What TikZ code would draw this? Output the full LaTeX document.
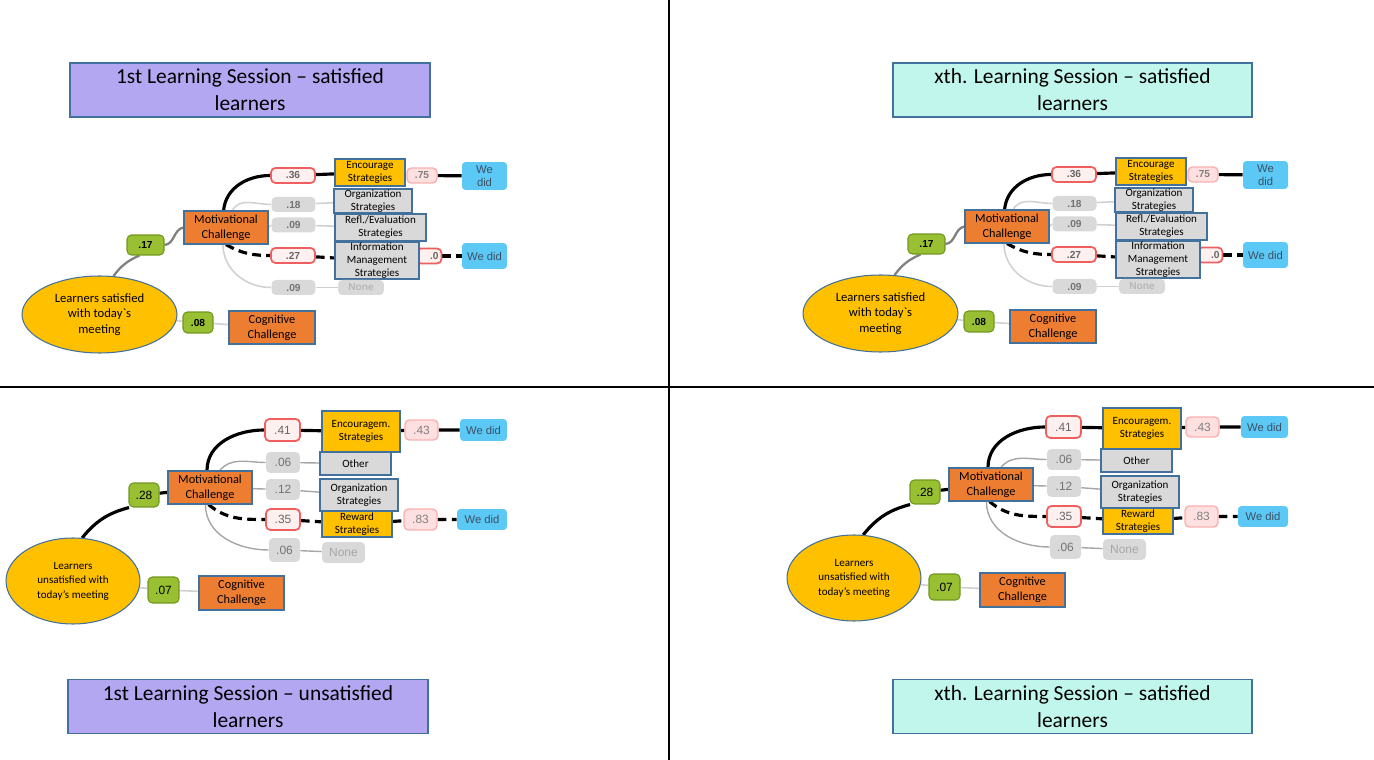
\documentclass[tikz,border=0pt]{standalone}
\usepackage{fontspec}
\setmainfont{Carlito}
\newfontfamily\numfont{Liberation Sans}
\usetikzlibrary{shapes.geometric,backgrounds}
\definecolor{sessblue}{RGB}{65,113,156}
\definecolor{sesspurple}{RGB}{180,167,242}
\definecolor{sessaqua}{RGB}{192,246,236}
\definecolor{chalorange}{RGB}{237,125,49}
\definecolor{stratgold}{RGB}{255,192,0}
\definecolor{probgreen}{RGB}{152,192,50}
\definecolor{probgreendark}{RGB}{112,150,30}
\definecolor{probred}{RGB}{240,95,95}
\definecolor{probpink}{RGB}{250,175,175}
\definecolor{didblue}{RGB}{92,200,245}
\definecolor{didtext}{RGB}{60,80,100}
\definecolor{lowgrey}{RGB}{217,217,217}

\begin{document}
\begin{tikzpicture}[x=0.02cm, y=-0.02cm,
    sessbox/.style={rectangle, draw=sessblue, line width=1.1pt, minimum width=7.2cm,
        minimum height=1.08cm, inner sep=0pt, align=center,
        font=\fontsize{12.2}{15.5}\selectfont},
    goal/.style={ellipse, draw=sessblue, fill=stratgold, line width=0.6pt,
        inner sep=0pt, align=center},
    chal/.style={rectangle, draw=sessblue, fill=chalorange, line width=0.6pt,
        inner sep=0pt, align=center, font=\fontsize{7}{8.5}\selectfont},
    strat/.style={rectangle, draw=sessblue, fill=stratgold, line width=0.6pt,
        inner sep=0pt, align=center, font=\fontsize{6.3}{7.4}\selectfont},
    other/.style={strat, fill=lowgrey},
    prob/.style={rectangle, rounded corners=2.5pt, inner sep=0pt,
        minimum width=0.88cm, minimum height=0.3cm},
    pgreen/.style={prob, draw=probgreendark, fill=probgreen, line width=0.6pt},
    pred/.style={prob, draw=probred, fill=red!6, line width=1pt, text=black!60},
    ppale/.style={prob, draw=probpink, fill=red!12, line width=0.8pt, text=black!50},
    pgrey/.style={prob, fill=lowgrey, text=black!55},
    did/.style={rectangle, rounded corners=2pt, fill=didblue, inner sep=0pt,
        align=center, text=didtext, font=\numfont\fontsize{6.4}{7.2}\selectfont},
    strong/.style={line width=1.8pt, black},
    strongdash/.style={strong, dash pattern=on 5pt off 3pt},
    mid/.style={line width=1.3pt, black!50},
    weak/.style={line width=0.9pt, black!18},
    soft/.style={line width=0.8pt, black!35}
]
    \useasboundingbox (0,0) rectangle (1374,760);

    % Panel dividers
    \draw[line width=0.6pt] (669,0) -- (669,760);
    \draw[line width=0.6pt] (0,387) -- (1374,387);

    % Session titles
    \node[sessbox, fill=sesspurple] (ttl) at (250,90) {1st Learning Session -- satisfied\\learners};
    \node[sessbox, fill=sessaqua, minimum width=7.18cm] (ttr) at (1072.5,90) {xth. Learning Session -- satisfied\\learners};
    \node[sessbox, fill=sesspurple] (tbl) at (248,706.5) {1st Learning Session -- unsatisfied\\learners};
    \node[sessbox, fill=sessaqua, minimum width=7.18cm] (tbr) at (1072.5,706.5) {xth. Learning Session -- satisfied\\learners};

    % Satisfied learners (top row)
    \foreach \dx/\dy/\s in {0/0/a, 781/-1/b} {
    \begin{scope}[shift={(\dx,\dy)},
        prob/.append style={font=\numfont\bfseries\fontsize{5.8}{7}\selectfont}]
        \node[goal, minimum width=3.1cm, minimum height=1.54cm,
            font=\fontsize{7.2}{8.8}\selectfont] (ell\s) at (99.5,314.5)
            {Learners satisfied\\with today\textasciigrave s\\meeting};
        \node[pgreen, minimum width=0.74cm, minimum height=0.40cm] (pa\s) at (145.5,245) {.17};
        \node[chal, minimum width=1.68cm, minimum height=0.66cm] (mot\s) at (226,227.5) {Motivational\\Challenge};
        \node[pred] (pb\s) at (293,175.5) {.36};
        \node[strat, minimum width=1.40cm, minimum height=0.54cm] (enc\s) at (370,172.5) {Encourage\\Strategies};
        \node[ppale, minimum width=0.60cm] (pc\s) at (422,175.5) {.75};
        \node[did, minimum width=0.90cm, minimum height=0.56cm] (dida\s) at (484.5,176) {We\\did};
        \node[pgrey] (pd\s) at (293.5,204.5) {.18};
        \node[other, minimum width=1.56cm, minimum height=0.48cm] (org\s) at (373,201) {Organization\\Strategies};
        \node[pgrey] (pe\s) at (293.5,225) {.09};
        \node[other, minimum width=1.82cm, minimum height=0.54cm] (refl\s) at (380.5,227.5) {Refl./Evaluation\\Strategies};
        \node[pred] (pf\s) at (293,255.5) {.27};
        \node[pred, minimum width=0.5cm] (pg\s) at (429,256) {\hspace{6pt}.0};
        \node[other, minimum width=1.68cm, minimum height=0.74cm] (info\s) at (377,260.5) {Information\\Management\\Strategies};
        \node[did, minimum width=0.90cm, minimum height=0.52cm] (didb\s) at (484.5,256) {We did};
        \node[pgrey] (ph\s) at (293.5,287.5) {.09};
        \node[pgrey, minimum width=0.92cm, text=black!28] (none\s) at (361,287.5) {None};
        \node[pgreen, minimum width=0.60cm, minimum height=0.42cm] (pi\s) at (198,322.5) {.08};
        \node[chal, minimum width=1.72cm, minimum height=0.66cm] (cog\s) at (272,327.5) {Cognitive\\Challenge};

        \begin{scope}[on background layer]
            \draw[mid] (ell\s.70) to[bend left=15] (pa\s.-120);
            \draw[mid] (pa\s.east) to[out=5,in=190] (mot\s.west);
            \draw[strong] (mot\s.98) to[out=85,in=180] (pb\s.west);
            \draw[strong] (pb\s) -- (enc\s);
            \draw[strong] (pc\s) -- (dida\s);
            \draw[weak] (mot\s.70) to[out=60,in=180] (pd\s.west);
            \draw[weak] (pd\s) -- (org\s);
            \draw[weak] (mot\s.east) -- (pe\s.west);
            \draw[weak] (pe\s) -- (refl\s);
            \draw[strongdash] (mot\s.south) to[out=-30,in=180] (pf\s.west);
            \draw[strongdash] (pf\s) -- (info\s);
            \draw[strongdash] (pg\s) -- (didb\s);
            \draw[weak] (mot\s.-100) to[out=-90,in=180] (ph\s.west);
            \draw[weak] (ph\s) -- (none\s);
            \draw[weak] (ell\s) -- (pi\s) -- (cog\s);
        \end{scope}
    \end{scope}
    }

    % Unsatisfied learners (bottom row)
    \foreach \dx/\dy/\s in {0/0/c, 781/-3/d} {
    \begin{scope}[shift={(\dx,\dy)},
        prob/.append style={font=\numfont\fontsize{6.8}{8}\selectfont}]
        \node[goal, minimum width=2.68cm, minimum height=1.72cm,
            font=\fontsize{6.3}{8.3}\selectfont] (ell\s) at (73,581)
            {Learners\\unsatisfied with\\today’s meeting};
        \node[pgreen, minimum width=0.60cm, minimum height=0.48cm] (pa\s) at (144,495) {.28};
        \node[chal, minimum width=1.68cm, minimum height=0.66cm] (mot\s) at (210,487.5) {Motivational\\Challenge};
        \node[pred, minimum width=0.70cm, minimum height=0.44cm] (pb\s) at (282.5,430) {.41};
        \node[strat, minimum width=1.56cm, minimum height=0.82cm] (enc\s) at (361,431.5) {Encouragem.\\Strategies};
        \node[ppale, minimum width=0.66cm, minimum height=0.40cm] (pc\s) at (421.5,430) {.43};
        \node[did, minimum width=0.94cm, minimum height=0.44cm] (dida\s) at (483.5,430) {We did};
        \node[pgrey, minimum width=0.68cm, minimum height=0.42cm] (pd\s) at (283,462.5) {.06};
        \node[other, minimum width=1.42cm, minimum height=0.46cm] (oth\s) at (355.5,463.5) {Other};
        \node[pgrey, minimum width=0.68cm, minimum height=0.42cm] (pe\s) at (283,489.5) {.12};
        \node[other, minimum width=1.56cm, minimum height=0.64cm] (org\s) at (359,495) {Organization\\Strategies};
        \node[pred, minimum width=0.68cm, minimum height=0.42cm] (pf\s) at (283,519.5) {.35};
        \node[strat, minimum width=1.40cm, minimum height=0.52cm] (rew\s) at (357,524) {Reward\\Strategies};
        \node[ppale, minimum width=0.66cm, minimum height=0.42cm] (pg\s) at (420.5,519.5) {.83};
        \node[did, minimum width=1.00cm, minimum height=0.42cm] (didb\s) at (482,519.5) {We did};
        \node[pgrey, minimum width=0.62cm, minimum height=0.48cm] (ph\s) at (284.5,550) {.06};
        \node[pgrey, minimum width=0.86cm, minimum height=0.42cm, text=black!35] (none\s) at (343.5,552.5) {None};
        \node[pgreen, minimum width=0.62cm, minimum height=0.52cm] (pi\s) at (163.5,590) {.07};
        \node[chal, minimum width=1.70cm, minimum height=0.68cm] (cog\s) at (241.5,593) {Cognitive\\Challenge};

        \begin{scope}[on background layer]
            \draw[strong] (ell\s.78) to[bend left=18] (pa\s.-140);
            \draw[strong] (pa\s) -- (mot\s);
            \draw[strong] (mot\s.100) to[out=90,in=180] (pb\s.west);
            \draw[strong] (pb\s) -- (enc\s) -- (pc\s) -- (dida\s);
            \draw[soft] (mot\s.60) to[out=50,in=180] (pd\s.west);
            \draw[soft] (pd\s) -- (oth\s);
            \draw[soft] (mot\s) -- (pe\s) -- (org\s);
            \draw[strongdash] (mot\s.-95) to[out=-40,in=180] (pf\s.west);
            \draw[strongdash] (pf\s) -- (rew\s) -- (pg\s) -- (didb\s);
            \draw[soft] (mot\s.-105) to[out=-90,in=180] (ph\s.west);
            \draw[soft] (ph\s) -- (none\s);
            \draw[weak] (ell\s) -- (pi\s) -- (cog\s);
        \end{scope}
    \end{scope}
    }
\end{tikzpicture}
\end{document}
